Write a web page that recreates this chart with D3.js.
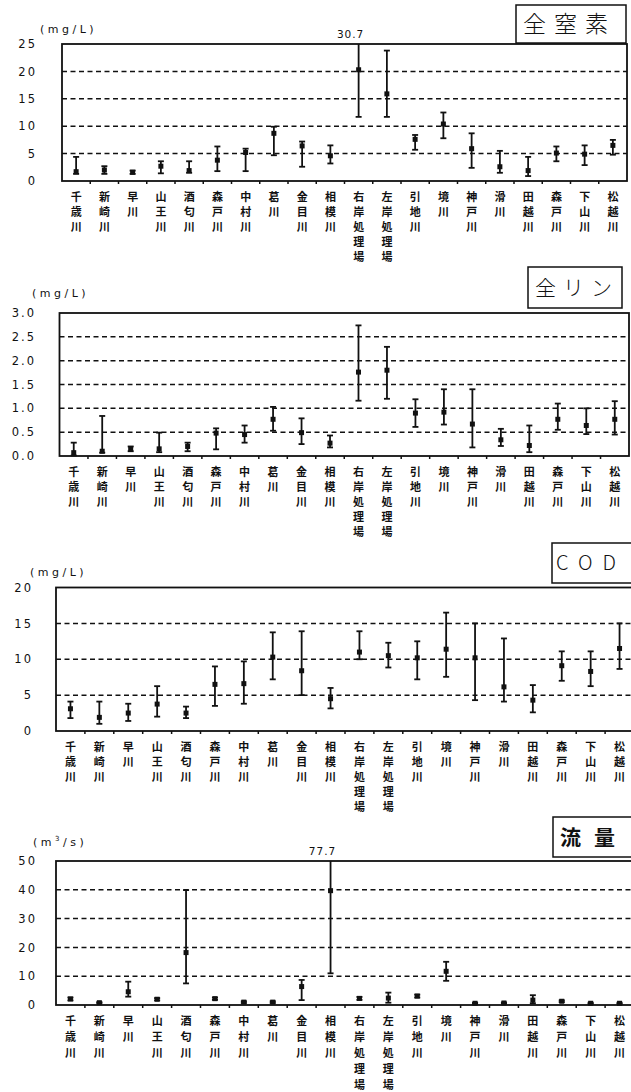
<!DOCTYPE html>
<html>
<head>
<meta charset="utf-8">
<script src="https://cdn.jsdelivr.net/npm/d3@7"></script>
<style>
  body { margin: 0; background: #fff; }
  svg { display: block; }
  .tick-num { font-family: "DejaVu Sans", sans-serif; font-size: 11.5px; letter-spacing: 2px; fill: #111; }
  .unit { font-family: "DejaVu Sans", sans-serif; font-size: 11px; letter-spacing: 3.5px; fill: #111; }
  .over { font-family: "DejaVu Sans", sans-serif; font-size: 10.5px; letter-spacing: 1px; fill: #111; }
  .cat { font-family: "Noto Sans CJK JP", sans-serif; font-size: 11px; font-weight: bold; fill: #111; }
</style>
</head>
<body>
<div class="container"></div>
<script>
// river / station names (same order in every panel)
const rivers = ['千歳川', '新崎川', '早川', '山王川', '酒匂川', '森戸川', '中村川', '葛川', '金目川', '相模川',
    '右岸処理場', '左岸処理場', '引地川', '境川', '神戸川', '滑川', '田越川', '森戸川', '下山川', '松越川'];

// 全窒素 (mg/L)
const tnMean = [1.7, 2.0, 1.6, 2.7, 1.9, 3.8, 5.2, 8.7, 6.4, 4.6, 20.3, 15.9, 7.6, 10.4, 5.9, 2.6, 1.9, 5.1, 4.9, 6.5];
const tnMin  = [1.3, 1.3, 1.3, 1.4, 1.5, 1.8, 1.8, 4.7, 2.6, 3.2, 11.7, 11.7, 5.7, 7.8, 2.4, 1.5, 0.9, 3.6, 2.9, 4.8];
const tnMax  = [4.4, 2.7, 1.9, 3.6, 3.6, 6.3, 5.9, 9.9, 7.2, 6.5, 30.7, 23.8, 8.4, 12.5, 8.7, 5.5, 4.4, 6.3, 6.5, 7.5];

// 全リン (mg/L)
const tpMean = [0.07, 0.10, 0.15, 0.15, 0.20, 0.48, 0.45, 0.77, 0.49, 0.27, 1.76, 1.80, 0.90, 0.92, 0.67, 0.34, 0.22, 0.77, 0.64, 0.77];
const tpMin  = [0.01, 0.07, 0.10, 0.08, 0.10, 0.14, 0.28, 0.53, 0.25, 0.18, 1.16, 1.20, 0.61, 0.66, 0.18, 0.21, 0.08, 0.55, 0.46, 0.45];
const tpMax  = [0.28, 0.84, 0.20, 0.49, 0.28, 0.58, 0.64, 1.03, 0.79, 0.43, 2.74, 2.29, 1.19, 1.40, 1.40, 0.57, 0.64, 1.10, 1.00, 1.15];

// COD (mg/L)
const codMean = [3.1, 1.9, 2.5, 3.75, 2.5, 6.5, 6.6, 10.3, 8.4, 4.5, 11.0, 10.5, 10.2, 11.4, 10.2, 6.15, 4.3, 9.1, 8.3, 11.5];
const codMin  = [1.8, 1.0, 1.4, 2.0, 1.8, 3.5, 3.8, 7.2, 5.0, 3.15, 10.0, 8.85, 7.2, 7.55, 4.3, 4.1, 2.6, 7.0, 6.25, 8.65];
const codMax  = [4.1, 4.1, 3.8, 6.25, 3.4, 9.0, 9.7, 13.75, 13.9, 6.0, 13.9, 12.3, 12.5, 16.5, 15.0, 12.9, 6.4, 11.1, 11.1, 15.0];

// 流量 (m3/s)
const flowMean = [2.1, 0.8, 4.6, 2.0, 18.2, 2.2, 1.0, 1.0, 6.4, 39.7, 2.3, 2.4, 3.1, 11.7, 0.6, 0.7, 1.7, 1.3, 0.6, 0.6];
const flowMin  = [1.6, 0.6, 2.9, 1.6, 7.5, 1.8, 0.7, 0.7, 1.7, 11.0, 1.8, 0.8, 2.6, 8.4, 0.4, 0.5, 0.6, 1.0, 0.4, 0.4];
const flowMax  = [2.6, 1.0, 8.1, 2.4, 39.9, 2.6, 1.3, 1.3, 8.7, 77.7, 2.8, 4.3, 3.6, 15.0, 0.8, 0.9, 3.4, 1.6, 0.8, 0.8];

const yTicksTN = [0, 5, 10, 15, 20, 25];
const yTicksTP = [0, 0.5, 1.0, 1.5, 2.0, 2.5, 3.0];
const yTicksCOD = [0, 5, 10, 15, 20];
const yTicksFlow = [0, 10, 20, 30, 40, 50];

const width = 631, height = 1092;

const svg = d3.select('.container')
    .append('svg')
    .attr('width', width)
    .attr('height', height);

function drawPanel(p) {
    const g = svg.append('g');

    const x = d3.scaleBand()
        .domain(d3.range(rivers.length))
        .range([p.left, p.right]);

    const yMax = p.ticks[p.ticks.length - 1];
    const y = d3.scaleLinear()
        .domain([0, yMax])
        .range([p.bottom, p.top]);

    // dashed grid
    g.append('g')
        .selectAll('line')
        .data(p.ticks.slice(1, -1))
        .join('line')
        .attr('x1', p.left)
        .attr('x2', p.right)
        .attr('y1', d => y(d))
        .attr('y2', d => y(d))
        .attr('stroke', '#111')
        .attr('stroke-width', 1.5)
        .attr('stroke-dasharray', '5,3.5');

    // frame
    g.append('rect')
        .attr('x', p.left)
        .attr('y', p.top)
        .attr('width', p.right - p.left)
        .attr('height', p.bottom - p.top)
        .attr('fill', 'none')
        .attr('stroke', '#111')
        .attr('stroke-width', 1.8);

    // y tick labels
    g.append('g')
        .selectAll('text')
        .data(p.ticks)
        .join('text')
        .attr('class', 'tick-num')
        .attr('x', p.labelRight)
        .attr('y', d => y(d))
        .attr('dy', '0.36em')
        .attr('text-anchor', 'end')
        .text(d => p.fmt(d));

    // unit
    g.append('text')
        .attr('class', 'unit')
        .attr('x', p.unitX)
        .attr('y', p.unitY)
        .html(p.unit);

    // x ticks at category boundaries
    g.append('g')
        .selectAll('line')
        .data(d3.range(1, rivers.length))
        .join('line')
        .attr('x1', d => x(d))
        .attr('x2', d => x(d))
        .attr('y1', p.bottom)
        .attr('y2', p.bottom + 3)
        .attr('stroke', '#111')
        .attr('stroke-width', 1.5);

    // category labels (vertical, one char per line)
    g.append('g')
        .selectAll('text')
        .data(rivers)
        .join('text')
        .attr('class', 'cat')
        .attr('text-anchor', 'middle')
        .attr('x', (d, i) => x(i) + x.bandwidth() / 2)
        .attr('y', p.bottom + 20)
        .selectAll('tspan')
        .data((d, i) => Array.from(d).map(c => ({c, cx: x(i) + x.bandwidth() / 2})))
        .join('tspan')
        .attr('x', d => d.cx)
        .attr('dy', (d, j) => j === 0 ? 0 : p.charStep)
        .text(d => d.c);

    // error bars
    const bars = g.append('g')
        .attr('stroke', '#111')
        .attr('stroke-width', 1.8)
        .selectAll('g')
        .data(p.mean.map((m, i) => ({i, m, lo: p.min[i], hi: p.max[i]})))
        .join('g')
        .attr('transform', d => `translate(${x(d.i) + x.bandwidth() / 2},0)`);

    bars.append('line')
        .attr('y1', d => y(d.lo))
        .attr('y2', d => y(Math.min(d.hi, yMax)));

    bars.append('line')
        .attr('x1', -3).attr('x2', 3)
        .attr('y1', d => y(d.lo)).attr('y2', d => y(d.lo));

    bars.filter(d => d.hi <= yMax)
        .append('line')
        .attr('x1', -3).attr('x2', 3)
        .attr('y1', d => y(d.hi)).attr('y2', d => y(d.hi));

    bars.append('rect')
        .attr('x', -2.5)
        .attr('y', d => y(d.m) - 2.5)
        .attr('width', 5)
        .attr('height', 5)
        .attr('fill', '#111')
        .attr('stroke', 'none');

    // off-scale maxima
    g.append('g')
        .selectAll('text')
        .data(p.max.map((v, i) => ({v, i})).filter(d => d.v > yMax))
        .join('text')
        .attr('class', 'over')
        .attr('x', d => x(d.i) + x.bandwidth() / 2 - 8)
        .attr('y', p.top - 6)
        .attr('text-anchor', 'middle')
        .text(d => d.v.toFixed(1));

    // title box
    g.append('rect')
        .attr('x', p.box[0])
        .attr('y', p.box[1])
        .attr('width', p.box[2])
        .attr('height', p.box[3])
        .attr('fill', '#fff')
        .attr('stroke', '#111')
        .attr('stroke-width', 1.5);

    g.append('text')
        .attr('x', p.titleX)
        .attr('y', p.box[1] + p.box[3] / 2)
        .attr('dy', '0.36em')
        .attr('font-family', '"Noto Sans CJK JP", sans-serif')
        .attr('font-size', p.titleSize)
        .attr('font-weight', p.titleWeight)
        .attr('letter-spacing', p.titleLs)
        .attr('fill', '#111')
        .text(p.title);
}

const intFmt = d3.format('d');
const decFmt = d3.format('.1f');

drawPanel({
    left: 62, right: 627, top: 44, bottom: 181,
    ticks: yTicksTN, fmt: intFmt, labelRight: 37,
    unit: '(mg/L)', unitX: 40, unitY: 33,
    mean: tnMean, min: tnMin, max: tnMax, charStep: 15,
    box: [516, 5, 110, 38], titleX: 523, title: '全窒素', titleSize: 23, titleWeight: 300, titleLs: 8
});

drawPanel({
    left: 59.5, right: 629, top: 313, bottom: 456,
    ticks: yTicksTP, fmt: decFmt, labelRight: 36,
    unit: '(mg/L)', unitX: 32, unitY: 297,
    mean: tpMean, min: tpMin, max: tpMax, charStep: 15,
    box: [528, 267, 94, 41], titleX: 535, title: '全リン', titleSize: 21, titleWeight: 300, titleLs: 7
});

drawPanel({
    left: 56, right: 634, top: 587.5, bottom: 731,
    ticks: yTicksCOD, fmt: intFmt, labelRight: 33,
    unit: '(mg/L)', unitX: 30, unitY: 576,
    mean: codMean, min: codMin, max: codMax, charStep: 15,
    box: [552, 543, 82, 40], titleX: 556, title: 'COD', titleSize: 20, titleWeight: 300, titleLs: 10
});

drawPanel({
    left: 56, right: 634, top: 861, bottom: 1005,
    ticks: yTicksFlow, fmt: intFmt, labelRight: 37,
    unit: '(m<tspan dy="-5" font-size="7">3</tspan><tspan dy="5">/s)</tspan>', unitX: 33, unitY: 846,
    mean: flowMean, min: flowMin, max: flowMax, charStep: 16,
    box: [553, 817, 81, 40], titleX: 560, title: '流量', titleSize: 21, titleWeight: 'bold', titleLs: 13
});
</script>
</body>
</html>
